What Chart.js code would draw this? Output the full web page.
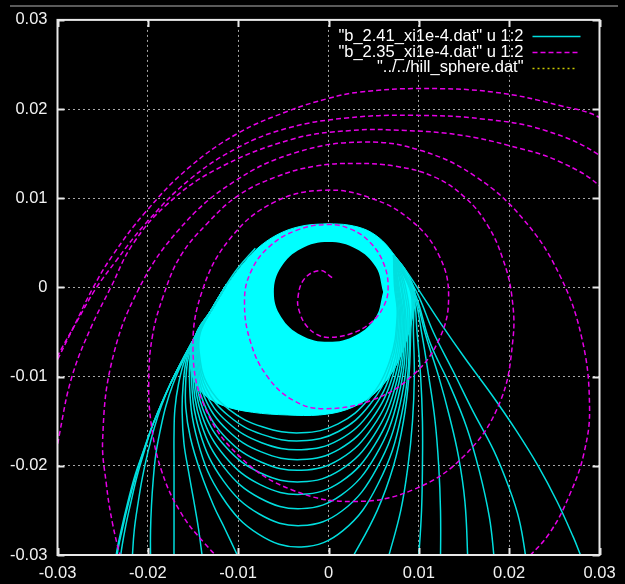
<!DOCTYPE html>
<html>
<head>
<meta charset="utf-8">
<script src="https://cdn.jsdelivr.net/npm/chart.js@4.4.1/dist/chart.umd.min.js"></script>
<style>
  html, body { margin: 0; padding: 0; background: #000; }
  #wrap { position: relative; width: 625px; height: 584px; }
</style>
</head>
<body>
<div id="wrap"><canvas id="c"></canvas></div>
<script>
// ---- axis ticks (same range on both axes) ----
const tickValues = [-0.03, -0.02, -0.01, 0, 0.01, 0.02, 0.03];
const tickLabels = ['-0.03', '-0.02', '-0.01', '0', '0.01', '0.02', '0.03'];

// ---- key entries ----
const seriesNames = [
  '"b_2.41_xi1e-4.dat" u 1:2',
  '"b_2.35_xi1e-4.dat" u 1:2',
  '"../../hill_sphere.dat"'
];

// All coordinates below are in units of 1e-3.
const UNIT = 1e-3;

// ---- b_2.35: outward spiral, one piece per pass through the window ----
const spiral1 = [[0.4,1.1],[-0.9,1.9],[-2.67,0.96],[-3.4,-1.3],[-3.14,-2.95],[-2.4,-4.34],[-1.3,-5.27],[0,-5.6],[2.53,-5.17],[4.67,-3.96],[6.1,-2.14],[6.6,0],[6.1,2.7],[4.67,4.98],[2.53,6.51],[0,7.05],[-3.56,6.4],[-6.58,4.55],[-8.59,1.77],[-9.3,-1.5],[-8.63,-6.13],[-6.72,-10.06],[-3.87,-12.68],[-0.5,-13.6],[4.79,-12.64],[9.26,-9.91],[12.25,-5.82],[13.3,-1],[12.25,3.56],[9.26,7.41],[4.79,9.99],[-0.5,10.9],[-6.05,9.54],[-10.75,5.66],[-13.9,-0.15],[-15,-7],[-13.65,-13.51],[-9.78,-19.02],[-4.02,-22.71],[2.8,-24],[9.5,-22.63],[15.17,-18.73],[18.97,-12.89],[20.4,-6],[20.3,-1],[19.3,3.2],[17.6,7],[15.1,10.1],[11.7,12.4],[7.4,13.6],[3,13.9],[-1.5,13.6],[-5.8,12.4],[-10,10.3],[-13.4,7.2],[-16.4,3.5],[-18.3,-1],[-19.5,-5.5],[-19.9,-10.5],[-19.6,-15.5],[-18.5,-20.5],[-16.5,-25],[-13.8,-28.6],[-10.5,-31.8],[-7,-34]];
const spiral2 = [[18.5,-35],[21.5,-31],[24.5,-27.5],[26.8,-23],[28.3,-18.5],[28.9,-13.4],[28.05,-5.71],[25.56,1.45],[21.6,7.6],[16.45,12.32],[10.44,15.29],[4,16.3],[-3.5,15.16],[-10.5,11.84],[-16.5,6.55],[-21.1,-0.35],[-24,-8.38],[-25,-17],[-24.6,-22],[-23.9,-26.5],[-22.8,-31],[-21.5,-35]];
const spiral3 = [[34,6],[30.3,11.1],[25.6,14.1],[20,15.9],[14.5,17.1],[8.5,17.6],[2.5,17.6],[-4.1,16.6],[-12.5,13.2],[-18,9.2],[-21.7,4.8],[-24.1,0],[-26.3,-4.5],[-28.4,-10],[-29.7,-16],[-30.5,-21]];
const spiral4 = [[35,10],[30.3,14.6],[24,17.6],[17,18.9],[9,19.3],[2,19.0],[-4.4,17.9],[-10,15.7],[-15.5,12],[-20.3,7.1],[-23.5,3],[-25.8,-0.2],[-27.9,-3.9],[-29.9,-7.5],[-31.2,-10]];
const spiral5 = [[35,15],[30.3,18.9],[25.6,20.4],[18.3,21.9],[10.1,22.3],[3.4,21.9],[0,21.2],[-4.4,19.8],[-10,17.3],[-15.5,13.4],[-20.3,8.4],[-23.9,3.6],[-26.1,-0.1],[-28.1,-4.2],[-29.9,-7.9],[-31.2,-10.5]];

// ---- b_2.41: densely wound band around an empty disc ----
const bandOuter = [[0,7.15],[-2.6,6.95],[-5.1,6.2],[-7.5,4.7],[-9.5,2.6],[-11.2,0.3],[-13,-2.6],[-14.7,-5.4],[-15.3,-7.5],[-15.1,-9.8],[-14,-11.8],[-11.8,-13.2],[-8.4,-14],[-4.5,-14.3],[-1,-14.3],[2,-13.7],[4.6,-12.3],[6.6,-10.2],[8.1,-7.4],[9.1,-4.2],[9.6,-0.8],[8.7,1.7],[7.4,3.5],[6,5.2],[4.3,6.4],[2.2,7.0],[0,7.15]];
const bandHole = [[6.05,-0.5],[5.24,2.3],[3.03,4.35],[0,5.1],[-3.03,4.35],[-5.24,2.3],[-6.05,-0.5],[-5.24,-3.3],[-3.03,-5.35],[0,-6.1],[3.03,-5.35],[5.24,-3.3],[6.05,-0.5]];

// loops that close inside the window (left side down, bottom, right side up)
const loop1  = [[-11.3,0.3],[-13,-2.6],[-14.7,-5.4],[-15.4,-10],[-14.46,-17.32],[-11.77,-23.5],[-7.75,-27.65],[-3,-29.1],[1.6,-27.27],[5.48,-22.04],[8.09,-14.23],[9,-5],[8.5,0.2],[7.2,3.6]];
const loop2  = [[-11.3,0.3],[-13,-2.6],[-14.7,-5.4],[-15.2,-9.6],[-14.27,-16.15],[-11.63,-21.69],[-7.67,-25.4],[-3,-26.7],[1.52,-25.04],[5.34,-20.28],[7.9,-13.19],[8.8,-4.8],[8.3,0.2],[7.2,3.6]];
const loop3  = [[-11.3,0.3],[-13,-2.6],[-14.7,-5.4],[-15.05,-9.2],[-14.13,-15.17],[-11.52,-20.23],[-7.62,-23.61],[-3,-24.8],[1.44,-23.26],[5.2,-18.88],[7.72,-12.34],[8.6,-4.6],[8.1,0.2],[7.2,3.6]];
const loop4  = [[-11.3,0.3],[-13,-2.6],[-14.7,-5.4],[-14.9,-8.9],[-14,-14.38],[-11.41,-19.01],[-7.56,-22.11],[-3,-23.2],[1.39,-21.77],[5.1,-17.69],[7.58,-11.6],[8.45,-4.4],[8,0.2],[7.2,3.6]];
const loop5  = [[-11.3,0.3],[-13,-2.6],[-14.7,-5.4],[-14.8,-8.6],[-13.9,-13.66],[-11.34,-17.93],[-7.52,-20.8],[-3,-21.8],[1.33,-20.46],[4.99,-16.64],[7.44,-10.94],[8.3,-4.2],[7.8,0.2],[7.2,3.6]];
const loop6  = [[-11.3,0.3],[-13,-2.6],[-14.6,-5.4],[-14.7,-8.3],[-13.81,-12.97],[-11.27,-16.93],[-7.48,-19.57],[-3,-20.5],[1.27,-19.25],[4.88,-15.67],[7.3,-10.32],[8.15,-4],[7.7,0.2],[7.2,3.6]];
const loop7  = [[-11.3,0.3],[-13,-2.6],[-14.5,-5.4],[-14.6,-8],[-13.72,-12.33],[-11.2,-15.99],[-7.44,-18.44],[-3,-19.3],[1.21,-18.12],[4.78,-14.76],[7.16,-9.74],[8,-3.8],[7.6,0.2],[7.2,3.6]];
const loop8  = [[-11.3,0.3],[-13,-2.6],[-14.4,-5.3],[-14.5,-7.8],[-13.63,-11.78],[-11.13,-15.15],[-7.4,-17.41],[-3,-18.2],[1.16,-17.09],[4.67,-13.92],[7.03,-9.19],[7.85,-3.6],[7.5,0.2],[7.2,3.6]];
const loop9  = [[-11.3,0.3],[-13,-2.6],[-14.3,-5.2],[-14.4,-7.6],[-13.53,-11.28],[-11.06,-14.39],[-7.37,-16.47],[-3,-17.2],[1.1,-16.15],[4.56,-13.16],[6.89,-8.69],[7.7,-3.4],[7.4,0.2],[7.2,3.6]];
const loop10 = [[-11.3,0.3],[-13,-2.6],[-14.2,-5.1],[-14.3,-7.4],[-13.44,-10.81],[-10.99,-13.69],[-7.33,-15.62],[-3,-16.3],[1.06,-15.3],[4.49,-12.46],[6.79,-8.21],[7.6,-3.2],[7.3,0.2],[7.2,3.6]];

// loops that run out through the lower edge: left branch (down) / right branch (up)
const openLeft1  = [[-8.1,4.4],[-10,2.2],[-11.3,0.3],[-13,-2.6],[-14.7,-5.4],[-16.2,-8.2],[-17.5,-10.8],[-18.6,-13.3],[-19.6,-15.8],[-20.5,-18.4],[-21.4,-21],[-22.2,-24],[-22.9,-27],[-23.5,-30],[-23.9,-34]];
const openRight1 = [[29.5,-34],[27.9,-30],[27.1,-28],[25.3,-24],[23.2,-20],[20.75,-16],[18.05,-12],[15.15,-8],[12.4,-4],[10.2,-0.6],[8.5,2],[7.2,3.6]];
const openLeft2  = [[-11.3,0.3],[-13,-2.6],[-14.7,-5.4],[-16.2,-8.2],[-17.5,-10.8],[-18.6,-13.3],[-19.6,-15.8],[-20.5,-18.4],[-21.3,-21],[-22.1,-24],[-22.8,-27],[-23.4,-30],[-23.8,-34]];
const openRight2 = [[22.3,-34],[21.8,-30],[21.1,-26],[20,-22.5],[18.3,-18.3],[16,-13.9],[13.8,-9.4],[11.6,-5],[9.9,-0.8],[8.4,1.8],[7.2,3.6]];
const openLeft3  = [[-11.3,0.3],[-13,-2.6],[-14.7,-5.4],[-16.2,-8.2],[-17.5,-10.8],[-18.6,-13.3],[-19.6,-15.8],[-20.4,-18.4],[-21.2,-21.2],[-21.9,-24.2],[-22.5,-27],[-23,-30],[-23.4,-34]];
const openRight3 = [[18.6,-34],[18.3,-30],[17.8,-25.7],[16.7,-20.6],[15.3,-15.7],[13.4,-10.9],[11.2,-6.1],[9.7,-1],[8.3,1.7],[7.2,3.6]];
const openLeft4  = [[-11.3,0.3],[-13,-2.6],[-14.7,-5.4],[-16.2,-8.2],[-17.5,-10.8],[-18.5,-13.3],[-19.3,-15.8],[-20,-18.5],[-20.6,-21.3],[-21.1,-24.3],[-21.5,-27.2],[-21.7,-30],[-21.9,-34]];
const openRight4 = [[15.5,-34],[15.4,-30],[15.1,-24],[14.4,-19],[13.4,-14.5],[12.2,-10],[10.8,-5.5],[9.6,-1],[8.3,1.7],[7.2,3.6]];
const openLeft5  = [[-11.3,0.3],[-13,-2.6],[-14.7,-5.4],[-16.1,-8.2],[-17.2,-10.8],[-18,-13.3],[-18.6,-15.9],[-19.1,-18.6],[-19.4,-21.5],[-19.6,-24.5],[-19.7,-27.3],[-19.7,-30],[-19.6,-34]];
const openRight5 = [[12.3,-34],[12.4,-30],[12.4,-25],[12.2,-20],[11.8,-15],[11.1,-10],[10.3,-5],[9.5,-1],[8.2,1.7],[7.2,3.6]];
const openLeft6  = [[-11.3,0.3],[-13,-2.6],[-14.7,-5.4],[-15.9,-8.1],[-16.6,-10.8],[-17,-13.6],[-17.1,-16.5],[-17.1,-19.5],[-17.1,-22.5],[-17.1,-25.5],[-17.1,-28],[-17.1,-30],[-17,-34]];
const openRight6 = [[9.7,-34],[10,-30],[10.3,-25],[10.4,-20],[10.4,-15],[10.2,-10],[9.8,-5],[9.4,-1],[8.2,1.7],[7.2,3.6]];
const openLeft7  = [[-11.3,0.3],[-13,-2.6],[-14.7,-5.4],[-15.7,-8],[-16.1,-11],[-16.2,-14],[-16,-17.5],[-15.5,-20.6],[-14.9,-24],[-14.4,-27],[-14,-30],[-13.5,-34]];
const openRight7 = [[5.6,-34],[6.7,-30],[8,-25],[8.8,-20],[9.3,-15],[9.5,-10],[9.4,-5],[9.3,-1],[8.2,1.7],[7.2,3.6]];
const openLeft8  = [[-11.3,0.3],[-13,-2.6],[-14.7,-5.4],[-15.5,-7.8],[-15.8,-10.5],[-15.8,-13.5],[-15.3,-16.8],[-14.2,-20.6],[-12.7,-24.5],[-11.5,-27],[-10.1,-30],[-8.5,-33.5]];
const openRight8 = [[1,-33],[2.8,-30],[5.4,-25],[7.2,-20],[8.3,-15],[8.9,-10],[9.1,-5],[9.2,-1],[8.2,1.7],[7.2,3.6]];

const closedLoops = [loop1, loop2, loop3, loop4, loop5, loop6, loop7, loop8, loop9, loop10];
const openBranches = [openLeft1, openRight1, openLeft2, openRight2, openLeft3, openRight3, openLeft4, openRight4,
                      openLeft5, openRight5, openLeft6, openRight6, openLeft7, openRight7, openLeft8, openRight8];
const spiralPieces = [spiral1, spiral2, spiral3, spiral4, spiral5];

// ---- styles ----
const CYAN_LINE = '#00dede';
const CYAN_FILL = '#00ffff';
const MAGENTA = '#e600e6';
const YELLOW = '#c8c800';

const toXY = arr => arr.map(p => ({ x: p[0] * UNIT, y: p[1] * UNIT }));

const lineBase = { showLine: true, pointRadius: 0, pointHoverRadius: 0, tension: 0.4, fill: false, clip: 0 };

const datasets = [];

// magenta spiral on top
spiralPieces.forEach(piece => datasets.push(Object.assign({}, lineBase, {
  data: toXY(piece), borderColor: MAGENTA, borderWidth: 1.5, borderDash: [5, 3], order: 0
})));

// empty centre of the wound band
datasets.push(Object.assign({}, lineBase, {
  data: toXY(bandHole), borderWidth: 0, borderColor: 'rgba(0,0,0,0)', backgroundColor: '#000', fill: 'shape', order: 1
}));

// individual loops of b_2.41
closedLoops.concat(openBranches).forEach(piece => datasets.push(Object.assign({}, lineBase, {
  data: toXY(piece), borderColor: CYAN_LINE, borderWidth: 1.5, order: 2
})));

// solid body of the wound band
datasets.push(Object.assign({}, lineBase, {
  data: toXY(bandOuter), borderWidth: 1, borderColor: CYAN_FILL, backgroundColor: CYAN_FILL, fill: 'shape', tension: 0.35, order: 3
}));

// hill sphere (no part of it falls inside the plotted window)
datasets.push(Object.assign({}, lineBase, {
  data: [], borderColor: YELLOW, borderWidth: 1.2, borderDash: [2, 3], order: 4
}));

const keyStyles = [
  { color: CYAN_LINE, dash: [] },
  { color: MAGENTA, dash: [5, 3] },
  { color: YELLOW, dash: [2, 3] }
];

const FONT = '"Liberation Sans", Arial, Helvetica, sans-serif';

// top rule, frame with inward ticks on all four sides, and the key
const framePlugin = {
  id: 'frame',
  beforeDraw(chart) {
    const ctx = chart.ctx;
    ctx.save();
    ctx.fillStyle = '#5a5a5a';
    ctx.fillRect(10, 5, 608, 2);
    ctx.restore();
  },
  afterDatasetsDraw(chart) {
    const { ctx, chartArea: a, scales: { x, y } } = chart;
    ctx.save();
    ctx.strokeStyle = '#e8e8e8';
    ctx.lineWidth = 2;
    ctx.strokeRect(a.left, a.top, a.right - a.left, a.bottom - a.top);
    ctx.beginPath();
    tickValues.forEach(v => {
      const px = Math.round(x.getPixelForValue(v)) + 0.5;
      const py = Math.round(y.getPixelForValue(v)) + 0.5;
      ctx.moveTo(px, a.bottom); ctx.lineTo(px, a.bottom - 7);
      ctx.moveTo(px, a.top); ctx.lineTo(px, a.top + 7);
      ctx.moveTo(a.left, py); ctx.lineTo(a.left + 7, py);
      ctx.moveTo(a.right, py); ctx.lineTo(a.right - 7, py);
    });
    ctx.stroke();
    ctx.restore();
  },
  afterDraw(chart) {
    const ctx = chart.ctx;
    const a = chart.chartArea;
    const textRight = a.right - 76;
    const sx0 = a.right - 67, sx1 = a.right - 19;
    ctx.save();
    ctx.font = '16.5px ' + FONT;
    ctx.textAlign = 'right';
    ctx.textBaseline = 'middle';
    seriesNames.forEach((name, i) => {
      const yy = a.top + 16.5 + i * 15.7;
      ctx.fillStyle = '#ffffff';
      ctx.fillText(name, textRight, yy);
      ctx.strokeStyle = keyStyles[i].color;
      ctx.lineWidth = 1.3;
      ctx.setLineDash(keyStyles[i].dash);
      ctx.beginPath();
      ctx.moveTo(sx0, Math.round(yy) + 0.5);
      ctx.lineTo(i === 2 ? sx1 - 4 : sx1, Math.round(yy) + 0.5);
      ctx.stroke();
    });
    ctx.restore();
  }
};

const axisCommon = {
  type: 'linear',
  min: -0.03,
  max: 0.03,
  afterBuildTicks: s => { s.ticks = tickValues.map(v => ({ value: v })); },
  grid: { color: '#a8a8a8', lineWidth: 1, drawTicks: false },
  border: { display: false, dash: [2, 3] }
};

new Chart(document.getElementById('c'), {
  type: 'scatter',
  data: { datasets },
  options: {
    responsive: true,
    maintainAspectRatio: false,
    animation: false,
    events: [],
    layout: { padding: { left: 0, right: 25.5, top: 15, bottom: 0 } },
    elements: { line: { capBezierPoints: false } },
    plugins: { legend: { display: false }, tooltip: { enabled: false } },
    scales: {
      x: Object.assign({}, axisCommon, {
        position: 'bottom',
        afterFit: s => { s.height = 29; },
        ticks: { color: '#f2f2f2', font: { family: FONT, size: 16.5 }, padding: 9, maxRotation: 0, autoSkip: false,
                 callback: (v, i) => tickLabels[i] }
      }),
      y: Object.assign({}, axisCommon, {
        position: 'left',
        afterFit: s => { s.width = 57.5; },
        ticks: { color: '#f2f2f2', font: { family: FONT, size: 16.5 }, padding: 10, autoSkip: false,
                 callback: (v, i) => tickLabels[i] }
      })
    }
  },
  plugins: [framePlugin]
});
</script>
</body>
</html>
